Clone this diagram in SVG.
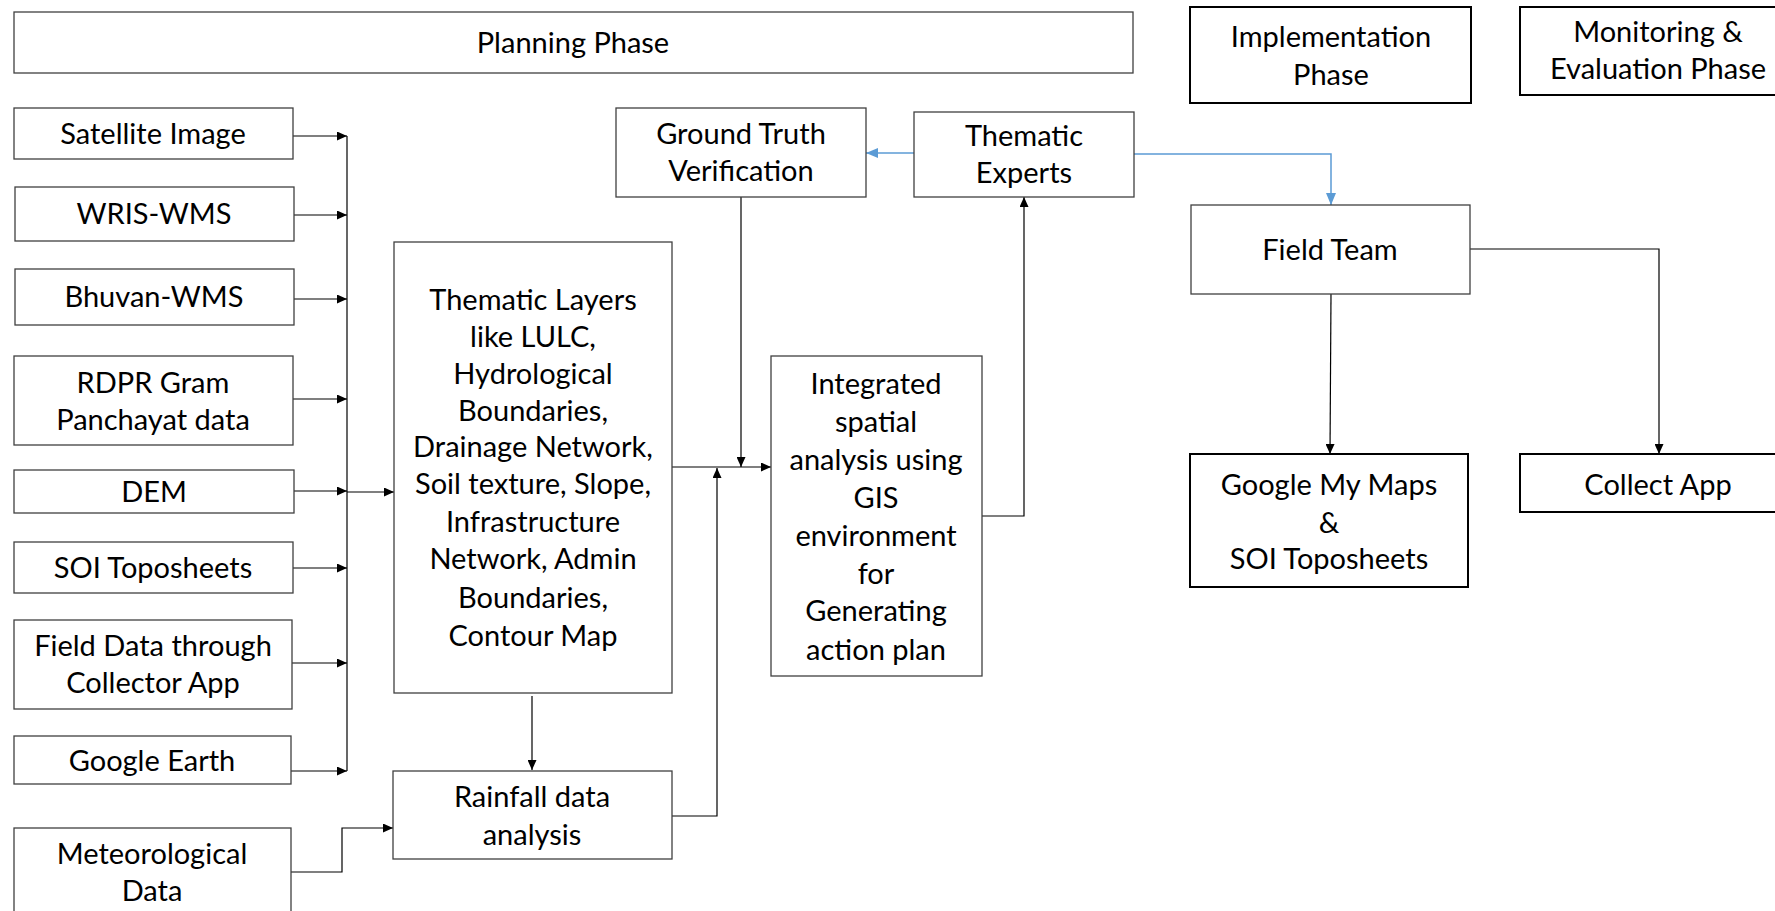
<svg xmlns="http://www.w3.org/2000/svg" width="1775" height="911" viewBox="0 0 1775 911">
<style>
.b{fill:#fff;stroke:#404040;stroke-width:1.3}
.bk{fill:#fff;stroke:#000;stroke-width:2}
text{font-family:Lato,"Liberation Sans",sans-serif;font-size:29px;fill:#000;text-anchor:middle}
.c{fill:none;stroke:#000;stroke-width:1.2}
.cb{fill:none;stroke:#5B9BD5;stroke-width:1.5}
</style>
<defs>
<marker id="a" markerUnits="userSpaceOnUse" markerWidth="10" markerHeight="9" refX="10" refY="4.5" orient="auto"><path d="M0,0L10,4.5L0,9z" fill="#000"/></marker>
<marker id="ab" markerUnits="userSpaceOnUse" markerWidth="12" markerHeight="10" refX="12" refY="5" orient="auto"><path d="M0,0L12,5L0,10z" fill="#5B9BD5"/></marker>
</defs>
<rect width="1775" height="911" fill="#fff"/>
<g id="connectors">
<path class="c" d="M347,136V771"/>
<path class="c" d="M293,136H347" marker-end="url(#a)"/>
<path class="c" d="M294,215H347" marker-end="url(#a)"/>
<path class="c" d="M294,299H347" marker-end="url(#a)"/>
<path class="c" d="M293,399H347" marker-end="url(#a)"/>
<path class="c" d="M294,491H347" marker-end="url(#a)"/>
<path class="c" d="M293,568H347" marker-end="url(#a)"/>
<path class="c" d="M292,663H347" marker-end="url(#a)"/>
<path class="c" d="M291,771H347" marker-end="url(#a)"/>
<path class="c" d="M347,492H394" marker-end="url(#a)"/>
<path class="c" d="M532,696V770" marker-end="url(#a)"/>
<path class="c" d="M291,872H342V828H393" marker-end="url(#a)"/>
<path class="c" d="M672,816H717V468" marker-end="url(#a)"/>
<path class="c" d="M672,467H771" marker-end="url(#a)"/>
<path class="c" d="M741,197V467" marker-end="url(#a)"/>
<path class="c" d="M982,516H1024V197" marker-end="url(#a)"/>
<path class="cb" d="M914,153H866" marker-end="url(#ab)"/>
<path class="cb" d="M1134,154H1331V205" marker-end="url(#ab)"/>
<path class="c" d="M1331,294L1330,454" marker-end="url(#a)"/>
<path class="c" d="M1470,249H1659V454" marker-end="url(#a)"/>
</g>
<g id="planning"><rect class="b" x="14" y="12" width="1119" height="61"/><text x="573" y="53">Planning Phase</text></g>
<g id="implementation"><rect class="bk" x="1190" y="7" width="281" height="96"/><text x="1331" y="47">Implementation</text><text x="1331" y="85">Phase</text></g>
<g id="monitoring"><rect class="bk" x="1520" y="7" width="277" height="88"/><text x="1658" y="42">Monitoring &amp;</text><text x="1658" y="79">Evaluation Phase</text></g>
<g id="satellite"><rect class="b" x="14" y="108" width="279" height="51"/><text x="153" y="144">Satellite Image</text></g>
<g id="wris"><rect class="b" x="15" y="187" width="279" height="54"/><text x="154" y="224">WRIS-WMS</text></g>
<g id="bhuvan"><rect class="b" x="15" y="269" width="279" height="56"/><text x="154" y="307">Bhuvan-WMS</text></g>
<g id="rdpr"><rect class="b" x="14" y="356" width="279" height="89"/><text x="153" y="393">RDPR Gram</text><text x="153" y="430">Panchayat data</text></g>
<g id="dem"><rect class="b" x="14" y="470" width="280" height="43"/><text x="154" y="502">DEM</text></g>
<g id="soi"><rect class="b" x="14" y="542" width="279" height="51"/><text x="153" y="578">SOI Toposheets</text></g>
<g id="fielddata"><rect class="b" x="14" y="620" width="278" height="89"/><text x="153" y="656">Field Data through</text><text x="153" y="693">Collector App</text></g>
<g id="googleearth"><rect class="b" x="14" y="736" width="277" height="48"/><text x="152" y="771">Google Earth</text></g>
<g id="meteorological"><rect class="b" x="14" y="828" width="277" height="100"/><text x="152" y="864">Meteorological</text><text x="152" y="901">Data</text></g>
<g id="thematiclayers"><rect class="b" x="394" y="242" width="278" height="451"/>
<text x="533" y="310">Thematic Layers</text>
<text x="533" y="347">like LULC,</text>
<text x="533" y="384">Hydrological</text>
<text x="533" y="421">Boundaries,</text>
<text x="533" y="457">Drainage Network,</text>
<text x="533" y="494">Soil texture, Slope,</text>
<text x="533" y="532">Infrastructure</text>
<text x="533" y="569">Network, Admin</text>
<text x="533" y="608">Boundaries,</text>
<text x="533" y="646">Contour Map</text>
</g>
<g id="rainfall"><rect class="b" x="393" y="771" width="279" height="88"/><text x="532" y="807">Rainfall data</text><text x="532" y="845">analysis</text></g>
<g id="groundtruth"><rect class="b" x="616" y="108" width="250" height="89"/><text x="741" y="144">Ground Truth</text><text x="741" y="181">Verification</text></g>
<g id="thematicexperts"><rect class="b" x="914" y="112" width="220" height="85"/><text x="1024" y="146">Thematic</text><text x="1024" y="183">Experts</text></g>
<g id="integrated"><rect class="b" x="771" y="356" width="211" height="320"/>
<text x="876" y="394">Integrated</text>
<text x="876" y="432">spatial</text>
<text x="876" y="470">analysis using</text>
<text x="876" y="508">GIS</text>
<text x="876" y="546">environment</text>
<text x="876" y="584">for</text>
<text x="876" y="621">Generating</text>
<text x="876" y="660">action plan</text>
</g>
<g id="fieldteam"><rect class="b" x="1191" y="205" width="279" height="89"/><text x="1330" y="260">Field Team</text></g>
<g id="googlemymaps"><rect class="bk" x="1190" y="454" width="278" height="133"/><text x="1329" y="495">Google My Maps</text><text x="1329" y="533">&amp;</text><text x="1329" y="569">SOI Toposheets</text></g>
<g id="collectapp"><rect class="bk" x="1520" y="454" width="277" height="58"/><text x="1658" y="495">Collect App</text></g>
</svg>
